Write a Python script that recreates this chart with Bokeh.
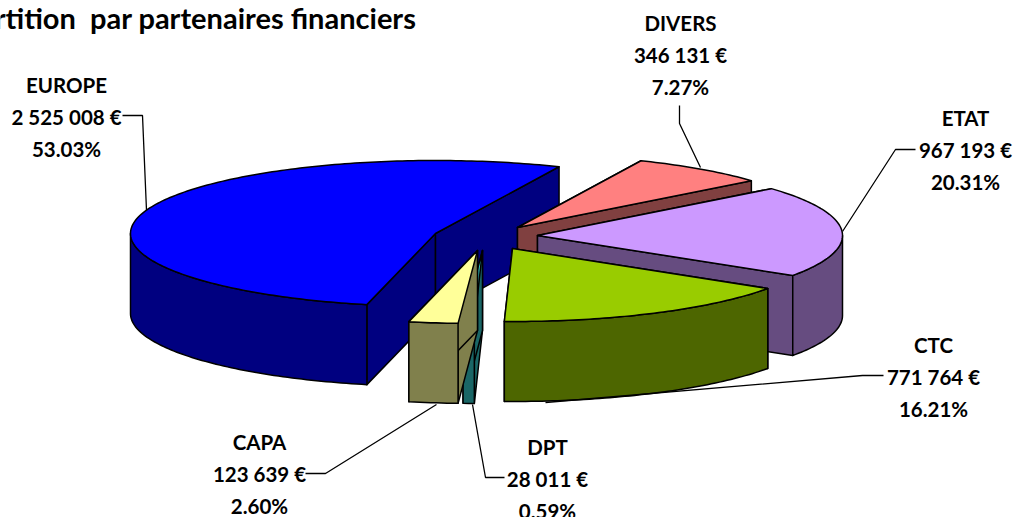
import math
from bokeh.plotting import figure
from bokeh.core.properties import value
from bokeh.embed import file_html
from bokeh.resources import INLINE

names = ["EUROPE", "DIVERS", "ETAT", "CTC", "DPT", "CAPA"]
amounts = [2525008, 346131, 967193, 771764, 28011, 123639]
amount_labels = ["2 525 008 €", "346 131 €", "967 193 €", "771 764 €", "28 011 €", "123 639 €"]
percent_labels = ["53.03%", "7.27%", "20.31%", "16.21%", "0.59%", "2.60%"]
title = "Répartition\u00a0 par partenaires financiers"

top_colors = ["#0000FF", "#FF8080", "#CC99FF", "#99CC00", "#33CCCC", "#FFFF99"]
side_colors = ["#000080", "#804040", "#664C80", "#4D6600", "#1A6666", "#80804C"]

# layout: apex of each exploded slice, label centres and leader paths (page pixels)
apex = [(435, 233), (517, 227), (537, 235), (512, 248), (482, 250), (477, 250)]
label_pos = [(66, 84), (680, 22), (965, 117), (933, 344), (547, 446), (259, 441)]
leaders = [
    [(122, 115), (142, 115), (146, 210)],
    [(679, 105), (679, 123), (700, 167)],
    [(915, 149), (895, 149), (842, 231)],
    [(883, 375), (862, 375), (545, 402)],
    [(504, 477), (485, 477), (472, 404)],
    [(305, 473), (325, 473), (436, 404)],
]
RX, RY, DEPTH = 305, 73, 80
START_ANGLE = 193
LINE_STEP = 32

p = figure(width=1014, height=517, x_range=(0, 1014), y_range=(517, 0),
           x_axis_location=None, y_axis_location=None, toolbar_location=None,
           output_backend="svg", min_border=0, outline_line_color=None)
p.grid.visible = False
p.background_fill_color = "white"


def rim(cx, cy, a, dy=0):
    t = math.radians(a)
    return cx + RX * math.sin(t), cy - RY * math.cos(t) + dy


def arc(cx, cy, a0, a1, dy=0):
    n = max(2, int(abs(a1 - a0)) + 1)
    return [rim(cx, cy, a0 + (a1 - a0) * i / (n - 1), dy) for i in range(n)]


def add(poly, color):
    p.patch([q[0] for q in poly], [q[1] for q in poly], fill_color=color,
            line_color="black", line_width=1.5, line_join="round")


total = sum(amounts)
angle = START_ANGLE
spans = []
for v in amounts:
    span = v / total * 360
    start = angle % 360
    spans.append((start, start + span))
    angle += span

for (a0, a1), (cx, cy), top, side in zip(spans, apex, top_colors, side_colors):
    for a in (a0, a1):
        r = rim(cx, cy, a)
        add([(cx, cy), r, (r[0], r[1] + DEPTH), (cx, cy + DEPTH)], side)
    w0, w1 = max(a0, 90), min(a1, 270)
    if w1 > w0:
        add(arc(cx, cy, w0, w1) + arc(cx, cy, w1, w0, DEPTH), side)
    add([(cx, cy)] + arc(cx, cy, a0, a1), top)

for path in leaders:
    p.line([q[0] for q in path], [q[1] for q in path], line_color="black", line_width=1.3)

tx, ty, tt = [], [], []
for (x, y), n, am, pc in zip(label_pos, names, amount_labels, percent_labels):
    for i, s in enumerate((n, am, pc)):
        tx.append(x)
        ty.append(y + i * LINE_STEP)
        tt.append(s)
p.text(tx, ty, text=tt, text_font=value("Lato"), text_font_style="bold",
       text_font_size="20.5px", text_align="center", text_baseline="middle", text_color="black")

p.text([416], [17], text=[title], text_font=value("Lato"), text_font_style="bold",
       text_font_size="29px", text_align="right", text_baseline="middle", text_color="black")

open("out.html", "w").write(file_html(p, INLINE))
